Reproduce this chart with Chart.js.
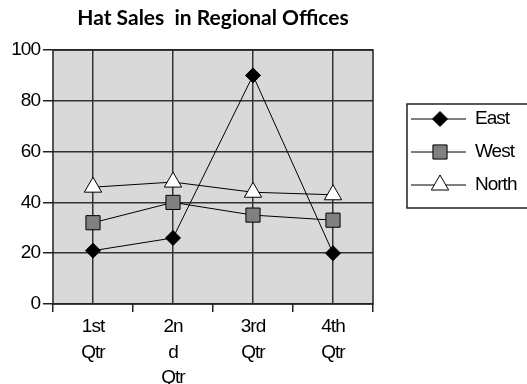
<!DOCTYPE html>
<html>
<head>
<meta charset="utf-8">
<title>Hat Sales in Regional Offices</title>
<script src="https://cdn.jsdelivr.net/npm/chart.js@4/dist/chart.umd.min.js"></script>
<style>
  html, body { margin: 0; padding: 0; background: #fff; overflow: hidden; }
  #wrap { width: 527px; height: 384px; }
</style>
</head>
<body>
<div id="wrap"><canvas id="line-chart" width="527" height="384"></canvas></div>
<script>
var quarters = [["1st", "Qtr"], ["2n", "d", "Qtr"], ["3rd", "Qtr"], ["4th", "Qtr"]];
var east = [21, 26, 90, 20];
var west = [32, 40, 35, 33];
var north = [46, 48, 44, 43];
var yTicks = [0, 20, 40, 60, 80, 100];

var labelFont = "'Liberation Sans', Arial, sans-serif";

// gray plot area, border around it, title and the boxed legend on the right
var chartDecor = {
    id: 'chartDecor',
    beforeLayout: function(chart) {
        chart.ctx.letterSpacing = '-1px';
    },
    beforeDraw: function(chart) {
        var a = chart.chartArea, ctx = chart.ctx;
        ctx.letterSpacing = '-1px';
        ctx.save();
        ctx.fillStyle = '#d9d9d9';
        ctx.fillRect(a.left, a.top, a.right - a.left, a.bottom - a.top);
        ctx.restore();
    },
    beforeDatasetsDraw: function(chart) {
        var a = chart.chartArea, ctx = chart.ctx;
        ctx.save();
        ctx.strokeStyle = '#222';
        ctx.lineWidth = 1.5;
        ctx.strokeRect(a.left, a.top, a.right - a.left, a.bottom - a.top);
        ctx.restore();
    },
    afterDraw: function(chart) {
        var a = chart.chartArea, ctx = chart.ctx;
        ctx.save();

        ctx.letterSpacing = '0px';
        ctx.fillStyle = '#000';
        ctx.font = "bold 21px Lato, 'Open Sans', sans-serif";
        ctx.textAlign = 'center';
        ctx.textBaseline = 'middle';
        ctx.fillText('Hat Sales  in Regional Offices', (a.left + a.right) / 2, 18);

        // legend
        var bx = 407, by = 104, bh = 104;
        ctx.strokeStyle = '#222';
        ctx.lineWidth = 1.5;
        ctx.strokeRect(bx, by, chart.width - bx + 5, bh);

        var rows = [119, 152, 185];
        ctx.letterSpacing = '-1px';
        ctx.font = '19px ' + labelFont;
        ctx.textAlign = 'left';
        chart.data.datasets.forEach(function(ds, i) {
            var y = rows[i];
            ctx.strokeStyle = '#000';
            ctx.lineWidth = 1;
            ctx.beginPath();
            ctx.moveTo(411, y);
            ctx.lineTo(466, y);
            ctx.stroke();
            ctx.fillStyle = ds.pointBackgroundColor;
            ctx.strokeStyle = ds.pointBorderColor;
            ctx.lineWidth = ds.pointBorderWidth;
            Chart.helpers.drawPoint(ctx, {
                pointStyle: ds.pointStyle,
                radius: ds.pointRadius,
                rotation: 0,
                borderWidth: ds.pointBorderWidth
            }, 440, y);
            ctx.fillStyle = '#000';
            ctx.fillText(ds.label, 475, y);
        });
        ctx.restore();
    }
};

new Chart(document.getElementById("line-chart"), {
    type: 'line',
    data: {
        labels: quarters,
        datasets: [
            {
                label: 'East',
                data: east,
                borderColor: '#000',
                borderWidth: 1,
                pointStyle: 'rectRot',
                pointRadius: 7.5,
                pointBackgroundColor: '#000',
                pointBorderColor: '#000',
                pointBorderWidth: 1
            },
            {
                label: 'West',
                data: west,
                borderColor: '#000',
                borderWidth: 1,
                pointStyle: 'rect',
                pointRadius: 10,
                pointBackgroundColor: '#808080',
                pointBorderColor: '#000',
                pointBorderWidth: 1
            },
            {
                label: 'North',
                data: north,
                borderColor: '#000',
                borderWidth: 1,
                pointStyle: 'triangle',
                pointRadius: 10,
                pointBackgroundColor: '#fff',
                pointBorderColor: '#000',
                pointBorderWidth: 1
            }
        ]
    },
    options: {
        responsive: false,
        animation: false,
        layout: { padding: { top: 50, right: 154, left: 0, bottom: 0 } },
        plugins: {
            legend: { display: false },
            title: { display: false },
            tooltip: { enabled: false }
        },
        scales: {
            y: {
                min: 0,
                max: 100,
                afterBuildTicks: function(scale) {
                    scale.ticks = yTicks.map(function(v) { return { value: v }; });
                },
                afterFit: function(scale) { scale.width = 53; },
                grid: { color: '#333', lineWidth: 1.5, tickLength: 10, tickColor: '#222' },
                border: { display: false },
                ticks: {
                    color: '#000',
                    padding: 3,
                    font: { family: labelFont, size: 19 }
                }
            },
            x: {
                offset: true,
                afterFit: function(scale) { scale.height = 80; },
                grid: { offset: true, drawOnChartArea: false, tickLength: 8, color: '#222', lineWidth: 1.5 },
                border: { display: false },
                ticks: {
                    color: '#000',
                    padding: 2,
                    maxRotation: 0,
                    autoSkip: false,
                    font: { family: labelFont, size: 19, lineHeight: 1.35 }
                }
            },
            // vertical gridlines through each quarter
            x2: {
                type: 'category',
                position: 'top',
                offset: true,
                afterFit: function(scale) { scale.height = 0; },
                grid: { offset: false, drawTicks: false, color: '#333', lineWidth: 1.5 },
                border: { display: false },
                ticks: { display: false }
            }
        }
    },
    plugins: [chartDecor]
});
</script>
</body>
</html>
